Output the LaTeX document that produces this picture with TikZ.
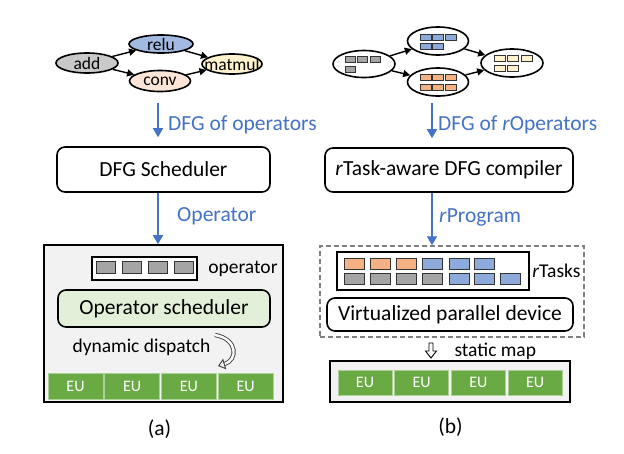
\documentclass[tikz,border=0pt]{standalone}
\usepackage{fontspec}
\setmainfont{Carlito}
\usetikzlibrary{shapes.geometric,arrows.meta,positioning}
\definecolor{flowblue}{HTML}{4472C4}
\definecolor{addgray}{HTML}{C9C9C9}
\definecolor{relublue}{HTML}{A2BAE2}
\definecolor{convpeach}{HTML}{FBE5D6}
\definecolor{mulyellow}{HTML}{FFF2CC}
\definecolor{chipgray}{HTML}{A5A5A5}
\definecolor{chipblue}{HTML}{8EAADB}
\definecolor{chiporange}{HTML}{F4B183}
\definecolor{schedgreen}{HTML}{E2F0D9}
\definecolor{eugreen}{HTML}{6AAA45}
\definecolor{panelgray}{HTML}{F2F2F2}
\definecolor{dashgray}{HTML}{7F7F7F}

\begin{document}
\begin{tikzpicture}[x=1pt,y=-1pt,
    big/.style={font=\fontsize{21.5}{24}\selectfont},
    small/.style={font=\fontsize{19.5}{22}\selectfont},
    op/.style={ellipse,draw,line width=1.6pt,minimum width=62pt,minimum height=20pt,inner sep=0pt,
               label={[font=\fontsize{17.5}{20}\selectfont]center:#1}},
    dag/.style={ellipse,draw,line width=1.6pt,minimum width=61pt,minimum height=28pt,inner sep=0pt},
    dep/.style={-{Triangle[length=7pt,width=7pt]},line width=1.4pt},
    flow/.style={-{Triangle[length=9pt,width=10pt]},line width=1.8pt,draw=flowblue},
    chip/.style={draw=black!80,line width=0.7pt},
    box/.style={draw,rounded corners=8pt,line width=1.6pt,fill=white,big,inner sep=0pt},
    eu/.style={draw=eugreen!55!white,fill=eugreen,line width=1pt,text=white,
               font=\fontsize{16}{18}\selectfont,minimum width=55pt,minimum height=26pt,inner sep=0pt}]
  \useasboundingbox (0,0) rectangle (624,453);

  % (a) dataflow graph of operators
  \node[op=add,fill=addgray] (add) at (87,63) {};
  \node[op=relu,fill=relublue,minimum width=64pt,minimum height=18pt] (relu) at (161,44) {};
  \node[op=conv,fill=convpeach,minimum width=61pt,minimum height=21pt] (conv) at (160,81) {};
  \node[op=matmul,fill=mulyellow,minimum width=60pt] (matmul) at (232,64) {};
  \draw[dep] (add) -- (relu);
  \draw[dep] (add) -- (conv);
  \draw[dep] (relu) -- (matmul);
  \draw[dep] (conv) -- (matmul);

  \node[box,minimum width=213pt,minimum height=45pt] (sched) at (163.5,169.5) {DFG Scheduler};
  \node[draw,fill=panelgray,line width=1.6pt,minimum width=239pt,minimum height=157pt] (devA) at (163.5,323.5) {};
  \coordinate (a1) at (158,103);
  \draw[flow,shorten >=9pt] (a1) -- node[right=6pt,big,text=flowblue] {DFG of operators} (sched.north -| a1);
  \draw[flow] (sched.south -| a1) -- node[right=15pt,big,text=flowblue,yshift=2pt] {Operator} (devA.north -| a1);

  \node[draw,fill=white,line width=1.6pt,minimum width=105pt,minimum height=23pt] (queue) at (144.5,268.5) {};
  \foreach \i in {0,...,3}
    \draw[chip,fill=chipgray,line width=1pt] ([shift={(5+26*\i,5)}]queue.north west) rectangle +(19,12);
  \node[small,right=7pt of queue] (oplbl) {operator};
  \node[box,fill=schedgreen,minimum width=212pt,minimum height=37pt] (opsched) at (164,308.5) {Operator scheduler};
  \node[small,anchor=west] (disp) at (69,347) {dynamic dispatch};
  \coordinate (dispS) at (215,335);
  \coordinate (dispE) at (218,366);
  \draw[black!75,double=white,double distance=2.4pt,line width=0.9pt,
        -{Triangle[open,length=7pt,width=11pt]}] (dispS) .. controls (238,339) and (238,360) .. (dispE);
  \foreach \i in {0,...,3}
    \node[eu] (euA\i) at (75.5+56.7*\i,386) {EU};
  \node[big] (capA) at (159.5,429) {(a)};

  % (b) dataflow graph of rOperators
  \node[dag,minimum width=62pt,minimum height=27pt] (rin) at (364,64) {};
  \node[dag] (rtop) at (438,41) {};
  \node[dag] (rbot) at (438,82) {};
  \node[dag,minimum width=62pt] (rout) at (512,63) {};
  \draw[dep] (rin) -- (rtop);
  \draw[dep] (rin) -- (rbot);
  \draw[dep] (rtop) -- (rout);
  \draw[dep] (rbot) -- (rout);
  \foreach \col/\row in {0/0,1/0,2/0,0/1}
    \draw[chip,fill=chipgray] ([shift={(-19+12.5*\col,-8+10*\row)}]rin.center) rectangle +(10,6);
  \foreach \col/\row in {0/0,1/0,2/0,0/1,1/1}
    \draw[chip,fill=chipblue] ([shift={(-18+12.5*\col,-7+9.5*\row)}]rtop.center) rectangle +(11,6);
  \foreach \col/\row in {0/0,1/0,2/0,0/1,1/1,2/1}
    \draw[chip,fill=chiporange] ([shift={(-18+12.5*\col,-8+10*\row)}]rbot.center) rectangle +(11,6);
  \foreach \col/\row in {0/0,1/0,2/0,0/1,1/1}
    \draw[chip,fill=mulyellow] ([shift={(-18+13.5*\col,-8+10*\row)}]rout.center) rectangle +(11,6);

  \node[box,minimum width=248pt,minimum height=44pt] (comp) at (449,170) {\textit{r}Task-aware DFG compiler};
  \node[draw=dashgray,dashed,dash pattern=on 5pt off 3pt,line width=1.5pt,minimum width=264pt,minimum height=91pt] (dev) at (452,291.5) {};
  \coordinate (b1) at (432,103);
  \draw[flow,shorten >=9pt] (b1) -- node[right=2pt,big,text=flowblue] {DFG of \textit{r}Operators} (comp.north -| b1);
  \draw[flow] (comp.south -| b1) -- node[right=3pt,big,text=flowblue,yshift=2pt] {\textit{r}Program} (dev.north -| b1);

  \node[draw,fill=white,line width=1.6pt,minimum width=192pt,minimum height=38pt] (tasks) at (433,271) {};
  \foreach \x/\c in {344/chiporange,370/chiporange,396/chiporange,422/chipblue,449/chipblue,474/chipblue}
    \draw[chip,fill=\c,line width=1pt] (\x,258) rectangle +(20,11);
  \foreach \x/\c in {344/chipgray,370/chipgray,396/chipgray,422/chipgray,449/chipblue,474/chipblue,500/chipblue}
    \draw[chip,fill=\c,line width=1pt] (\x,273) rectangle +(20,11);
  \node[small,right=-1pt of tasks] (tasklbl) {\textit{r}Tasks};
  \node[box,minimum width=246pt,minimum height=33pt] (virt) at (450,314.5) {Virtualized parallel device};

  % hollow down arrow
  \draw[line width=0.9pt,fill=white,line join=miter] (429,343) -- (433,343) -- (433,351) -- (436.5,351)
    -- (431,358) -- (425.5,351) -- (429,351) -- cycle;
  \node[small,anchor=west] (maplbl) at (451,351) {static map};
  \node[draw,fill=panelgray,line width=1.6pt,minimum width=240pt,minimum height=41pt] (devB) at (450,381.5) {};
  \foreach \i in {0,...,3}
    \node[eu,minimum width=54pt,minimum height=25pt] (euB\i) at (365+56.7*\i,382.5) {EU};
  \node[big] (capB) at (450.5,427) {(b)};
\end{tikzpicture}
\end{document}
